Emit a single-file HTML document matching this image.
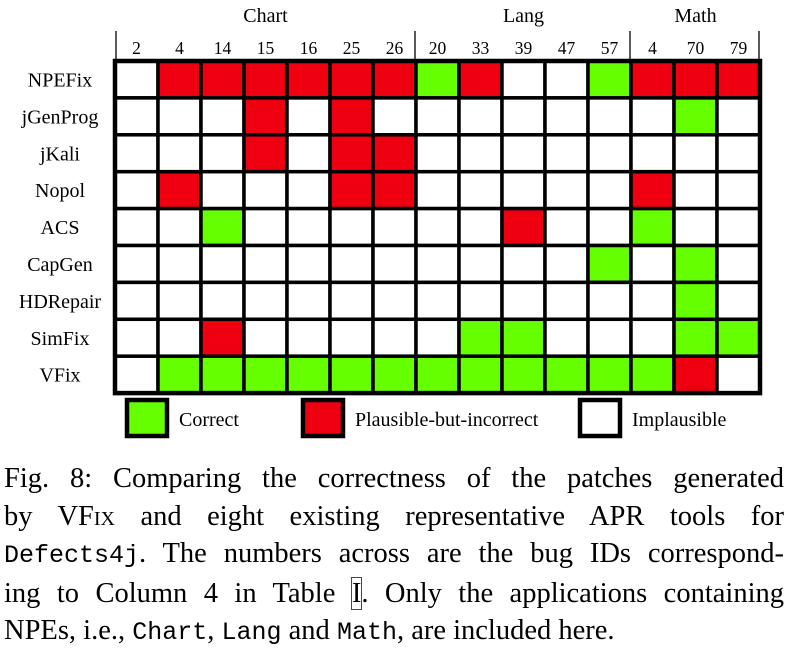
<!DOCTYPE html>
<html><head><meta charset="utf-8">
<style>
body{margin:0;background:#fff;width:795px;height:645px;overflow:hidden;font-family:"Liberation Serif",serif;}
#cap{position:absolute;left:4px;top:460px;width:780px;font-size:28.5px;line-height:37.5px;color:#000;}
#cap div{text-align:justify;text-align-last:justify;white-space:nowrap;}
#cap div.last{text-align-last:left;}
.m{font-family:"Liberation Mono",monospace;font-size:25px;}
.sc{font-variant:small-caps;}
</style></head><body>
<svg id="chart" width="795" height="450" style="position:absolute;left:0;top:0"></svg>
<div id="cap">
<div>Fig. 8: Comparing the correctness of the patches generated</div>
<div>by V<span class="sc">Fix</span> and eight existing representative APR tools for</div>
<div><span class="m">Defects4j</span>. The numbers across are the bug IDs correspond-</div>
<div>ing to Column 4 in Table <span style="outline:1px solid #e00">I</span>. Only the applications containing</div>
<div class="last">NPEs, i.e., <span class="m">Chart</span>, <span class="m">Lang</span> and <span class="m">Math</span>, are included here.</div>
</div>
<script>
const groups=["Chart","Lang","Math"];
const groupSizes=[7,5,3];
const bugIds=["2","4","14","15","16","25","26","20","33","39","47","57","4","70","79"];
const tools=["NPEFix","jGenProg","jKali","Nopol","ACS","CapGen","HDRepair","SimFix","VFix"];
const r0="WRRRRRRGRWWGRRR";
const r1="WWWRWRWWWWWWWGW";
const r2="WWWRWRRWWWWWWWW";
const r3="WRWWWRRWWWWWRWW";
const r4="WWGWWWWWWRWWGWW";
const r5="WWWWWWWWWWWGWGW";
const r6="WWWWWWWWWWWWWGW";
const r7="WWRWWWWWGGWWWGG";
const r8="WGGGGGGGGGGGGRW";
const results=[r0,r1,r2,r3,r4,r5,r6,r7,r8];
const colors={G:"#66ff00",R:"#ee0011",W:"#ffffff"};
const legendLabels=["Correct","Plausible-but-incorrect","Implausible"];
const legendKeys=["G","R","W"];

const NS="http://www.w3.org/2000/svg";
const svg=document.getElementById("chart");
const X0=115,Y0=61,CW=43,RH=36.9;
const xCol=i=>X0+i*CW, yRow=j=>Y0+j*RH;
function mk(tag,attrs,parent){const e=document.createElementNS(NS,tag);for(const k in attrs)e.setAttribute(k,attrs[k]);(parent||svg).appendChild(e);return e;}
const font='"Liberation Serif",serif';
results.forEach((row,j)=>{
  for(let i=0;i<bugIds.length;i++){
    const c=mk("rect",{x:xCol(i),y:yRow(j),width:CW,height:RH,fill:colors[row[i]],stroke:"#000","stroke-width":3.5});
    
    
  }
  const t=mk("text",{x:60,y:yRow(j)+RH/2+7,"text-anchor":"middle","font-family":font,"font-size":20});
  t.textContent=tools[j];
  
  
});
mk("rect",{x:X0,y:Y0,width:CW*15,height:RH*9,fill:"none",stroke:"#000","stroke-width":4.5});
bugIds.forEach((b,i)=>{
  const t=mk("text",{x:xCol(i)+CW/2,y:54,"text-anchor":"middle","font-family":font,"font-size":17.5});
  t.textContent=b;
  
  
});
let start=0;
const div0=mk("line",{x1:X0+1,x2:X0+1,y1:31,y2:Y0,stroke:"#000","stroke-width":1.3});


groups.forEach((g,k)=>{
  const end=start+groupSizes[k];
  const t=mk("text",{x:(xCol(start)+xCol(end))/2,y:22,"text-anchor":"middle","font-family":font,"font-size":20});
  t.textContent=g;
  
  
  const l=mk("line",{x1:xCol(end)-1,x2:xCol(end)-1,y1:31,y2:Y0,stroke:"#000","stroke-width":1.3});
  
  
  start=end;
});
const legX=[127,303,580];
legendKeys.forEach((k,i)=>{
  const r=mk("rect",{x:legX[i],y:400,width:40,height:36,fill:colors[k],stroke:"#000","stroke-width":4.5});
  
  
  const t=mk("text",{x:legX[i]+52,y:426,"font-family":font,"font-size":20});
  t.textContent=legendLabels[i];
  
  
});
</script>
</body></html>
